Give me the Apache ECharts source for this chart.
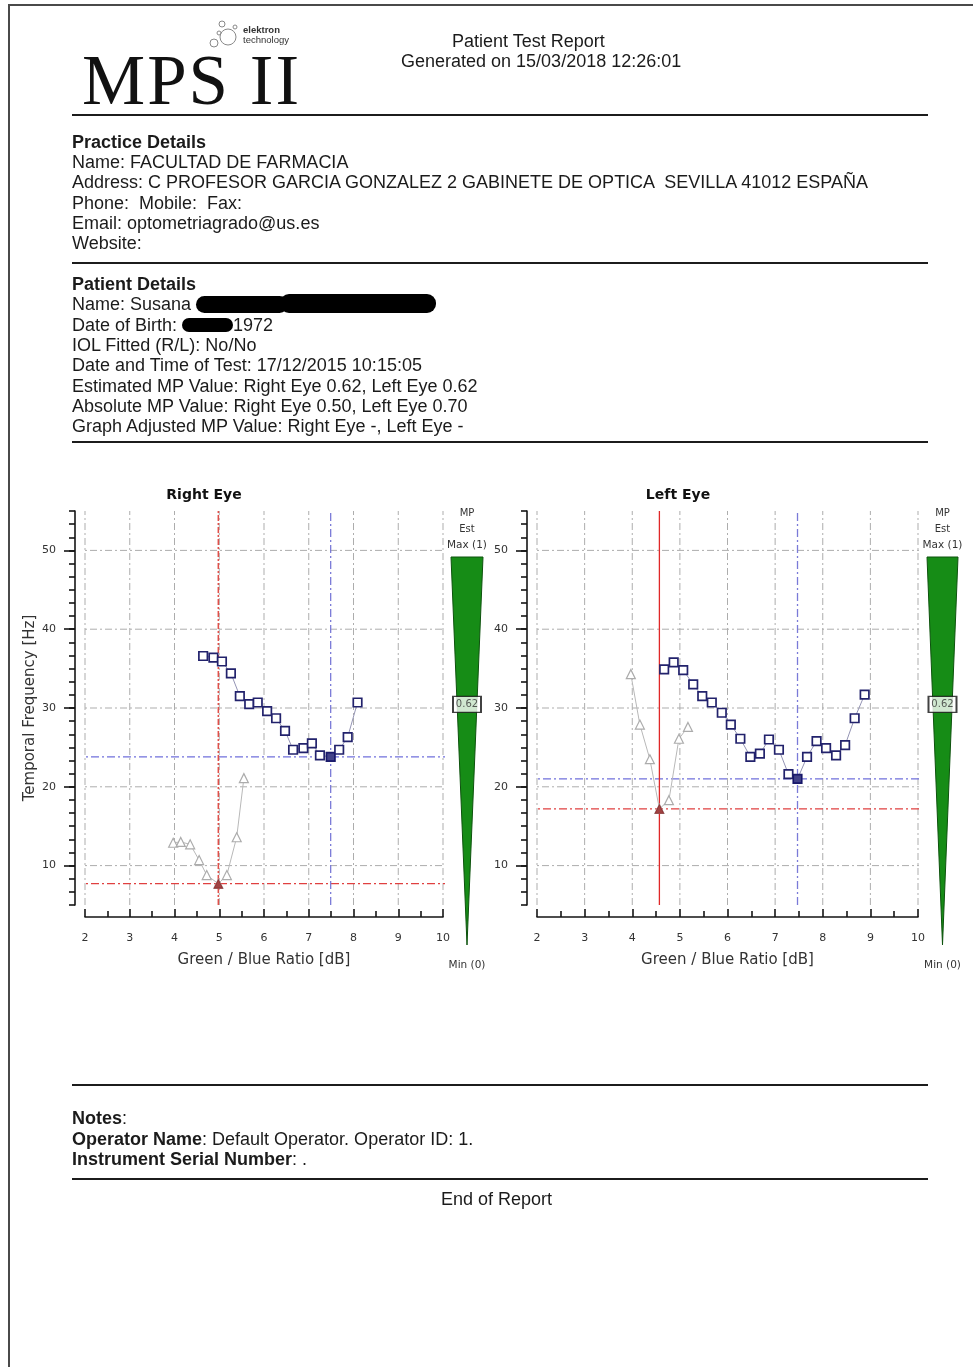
<!DOCTYPE html>
<html>
<head>
<meta charset="utf-8">
<title>MPS II - Patient Test Report</title>
<script src="https://cdn.jsdelivr.net/npm/echarts@6/dist/echarts.min.js"></script>
<style>
  html, body { margin: 0; padding: 0; background: #fff; }
  #page { position: relative; width: 973px; height: 1367px; overflow: hidden; background: #fff;
          font-family: 'Liberation Sans', Arial, sans-serif; color: #1b1b1b; }
  #chart { position: absolute; left: 0; top: 0; width: 973px; height: 1367px; }
  #report { position: absolute; left: 0; top: 0; width: 973px; height: 1367px; pointer-events: none; }
  .t { position: absolute; white-space: pre; font-size: 18px; line-height: 20px; }
  .hr { position: absolute; left: 72px; width: 856px; height: 2px; background: #1c1c1c; }
  .rd { display: inline-block; height: 17px; background: #000; border-radius: 9px; vertical-align: -3px; }
  .logo-s { position: absolute; font-family: 'Liberation Sans', Arial, sans-serif; font-size: 9.5px; line-height: 10px; color: #333; }
</style>
</head>
<body>
<div id="page">
  <div id="chart"></div>
  <div id="report"></div>
</div>
<script>
// ---- Axis ranges and tick values ----
const X_RANGE = [2, 10];
const Y_RANGE = [5, 55];
const xTicks = [2, 3, 4, 5, 6, 7, 8, 9, 10];
const yGridValues = [10, 20, 30, 40, 50];
const mpScale = [0, 1];          // MP estimate scale: Min (0) .. Max (1)

// ---- Right eye: flicker thresholds (ratio dB, frequency Hz) ----
const rightSquares = [[4.64, 36.6], [4.87, 36.4], [5.06, 35.9], [5.26, 34.4], [5.46, 31.5], [5.67, 30.5],
  [5.86, 30.7], [6.07, 29.6], [6.27, 28.7], [6.47, 27.1], [6.65, 24.7], [6.88, 24.9], [7.07, 25.5],
  [7.25, 24.0], [7.49, 23.8], [7.68, 24.7], [7.87, 26.3], [8.09, 30.7]];
const rightSquareMin = [7.49, 23.8];
const rightTriangles = [[3.97, 12.9], [4.14, 13.0], [4.35, 12.7], [4.55, 10.7], [4.72, 8.8],
  [4.98, 7.7], [5.17, 8.8], [5.39, 13.6], [5.55, 21.1]];
const rightTriangleMin = [4.98, 7.7];

// ---- Left eye ----
const leftSquares = [[4.67, 34.9], [4.87, 35.8], [5.07, 34.8], [5.28, 33.0], [5.47, 31.5], [5.67, 30.7],
  [5.88, 29.4], [6.07, 27.9], [6.27, 26.1], [6.48, 23.8], [6.68, 24.2], [6.87, 26.0], [7.08, 24.7],
  [7.28, 21.6], [7.47, 21.0], [7.67, 23.8], [7.87, 25.8], [8.07, 24.9], [8.28, 24.0], [8.47, 25.3],
  [8.67, 28.7], [8.88, 31.7]];
const leftSquareMin = [7.47, 21.0];
const leftTriangles = [[3.97, 34.3], [4.16, 27.9], [4.37, 23.5], [4.57, 17.2], [4.77, 18.3],
  [4.98, 26.1], [5.17, 27.6]];
const leftTriangleMin = [4.57, 17.2];

// ---- Estimated MP value per eye [right, left] ----
const mpEstimate = [0.62, 0.62];

// ---- Report text ----
const practiceLines = [
  '<b>Practice Details</b>',
  'Name: FACULTAD DE FARMACIA',
  'Address: C PROFESOR GARCIA GONZALEZ 2 GABINETE DE OPTICA  SEVILLA 41012 ESPAÑA',
  'Phone:  Mobile:  Fax:',
  'Email: optometriagrado@us.es',
  'Website:'
];
const patientLines = [
  '<b>Patient Details</b>',
  'Name: Susana <span class="rd" style="width:92px"></span><span class="rd" style="width:156px;margin-left:-8px;height:19px;vertical-align:-3px"></span>',
  'Date of Birth: <span class="rd" style="width:51px;height:14px;vertical-align:-1px"></span>1972',
  'IOL Fitted (R/L): No/No',
  'Date and Time of Test: 17/12/2015 10:15:05',
  'Estimated MP Value: Right Eye 0.62, Left Eye 0.62',
  'Absolute MP Value: Right Eye 0.50, Left Eye 0.70',
  'Graph Adjusted MP Value: Right Eye -, Left Eye -'
];
const notesLines = [
  '<b>Notes</b>:',
  '<b>Operator Name</b>: Default Operator. Operator ID: 1.',
  '<b>Instrument Serial Number</b>: .'
];

// ---------- report layout ----------
const report = document.getElementById('report');
function addText(html, left, centerY, extra) {
  const d = document.createElement('div');
  d.className = 't';
  d.style.left = left + 'px';
  d.style.top = (centerY - 10) + 'px';
  if (extra) Object.assign(d.style, extra);
  d.innerHTML = html;
  report.appendChild(d);
}
function addRule(y) {
  const d = document.createElement('div');
  d.className = 'hr';
  d.style.top = (y - 1) + 'px';
  report.appendChild(d);
}
function addBlock(lines, firstCenter, step) {
  lines.forEach((l, i) => addText(l, 72, firstCenter + i * step));
}

// page frame
(function () {
  const top = document.createElement('div');
  Object.assign(top.style, { position: 'absolute', left: '9px', right: '0', top: '4px', height: '2px', background: '#4a4a4a' });
  report.appendChild(top);
  const left = document.createElement('div');
  Object.assign(left.style, { position: 'absolute', left: '8px', width: '2px', top: '4px', bottom: '0', background: '#4a4a4a' });
  report.appendChild(left);
})();

// header: logo and title
(function () {
  const mps = document.createElement('div');
  Object.assign(mps.style, { position: 'absolute', left: '82px', top: '45px', fontFamily: "'Liberation Serif', 'Times New Roman', serif",
    fontSize: '71px', lineHeight: '71px', letterSpacing: '2px', color: '#111', whiteSpace: 'pre' });
  mps.textContent = 'MPS II';
  report.appendChild(mps);

  const svgNS = 'http://www.w3.org/2000/svg';
  const svg = document.createElementNS(svgNS, 'svg');
  svg.setAttribute('width', '40'); svg.setAttribute('height', '34');
  Object.assign(svg.style, { position: 'absolute', left: '205px', top: '17px' });
  [[23, 20, 8], [17, 7, 3], [9, 26, 4], [30, 10, 2], [14, 16, 2]].forEach(c => {
    const e = document.createElementNS(svgNS, 'circle');
    e.setAttribute('cx', c[0]); e.setAttribute('cy', c[1]); e.setAttribute('r', c[2]);
    e.setAttribute('fill', 'none'); e.setAttribute('stroke', '#888'); e.setAttribute('stroke-width', '1');
    svg.appendChild(e);
  });
  report.appendChild(svg);

  const el = document.createElement('div');
  el.className = 'logo-s'; el.style.left = '243px'; el.style.top = '25px'; el.style.fontWeight = 'bold';
  el.textContent = 'elektron';
  report.appendChild(el);
  const tech = document.createElement('div');
  tech.className = 'logo-s'; tech.style.left = '243px'; tech.style.top = '35px';
  tech.textContent = 'technology';
  report.appendChild(tech);

  addText('Patient Test Report', 452, 41);
  addText('Generated on 15/03/2018 12:26:01', 401, 61);
})();

addRule(115);
addBlock(practiceLines, 142, 20.2);
addRule(263);
addBlock(patientLines, 284, 20.3);
addRule(442);
addRule(1085);
addBlock(notesLines, 1118, 20.5);
addRule(1179);
addText('End of Report', 441, 1199);

// ---------- charts ----------
const CHART_FONT = "'DejaVu Sans', Verdana, sans-serif";
const AXIS_COLOR = '#151515';
const gridLineStyle = { color: '#adadad', width: 1, type: [7, 3, 2, 3] };

const panels = [
  {
    title: 'Right Eye', titleX: 204,
    grid: { left: 85, top: 511, width: 358, height: 394 },
    bar: { left: 451, top: 557, width: 32, height: 388 },
    squares: rightSquares, squareMin: rightSquareMin,
    triangles: rightTriangles, triangleMin: rightTriangleMin,
    mp: mpEstimate[0], yName: 'Temporal Frequency [Hz]',
    redVertical: { color: '#e0504a', width: 1.6, type: [6, 2, 2, 2] }
  },
  {
    title: 'Left Eye', titleX: 678,
    grid: { left: 537, top: 511, width: 381, height: 394 },
    bar: { left: 927, top: 557, width: 31, height: 388 },
    squares: leftSquares, squareMin: leftSquareMin,
    triangles: leftTriangles, triangleMin: leftTriangleMin,
    mp: mpEstimate[1], yName: '',
    redVertical: { color: '#e02828', width: 1.3, type: 'solid' }
  }
];

const option = { animation: false, grid: [], xAxis: [], yAxis: [], series: [], graphic: [] };

function segment(xi, yi, pts, lineStyle, z) {
  return { type: 'line', xAxisIndex: xi, yAxisIndex: yi, data: pts, symbol: 'none', clip: false,
           silent: true, z: z, lineStyle: lineStyle };
}
function txt(text, x, y, font, color) {
  return { type: 'text', x: x, y: y, silent: true, z: 10,
           style: { text: text, font: font, fill: color || '#222', align: 'center', verticalAlign: 'middle' } };
}

panels.forEach(p => {
  const gMain = option.grid.length;
  option.grid.push(Object.assign({ containLabel: false }, p.grid));
  const gBar = option.grid.length;
  option.grid.push(Object.assign({ containLabel: false }, p.bar));

  const xMain = option.xAxis.length;
  option.xAxis.push({
    gridIndex: gMain, type: 'value', min: X_RANGE[0], max: X_RANGE[1], interval: 1,
    position: 'bottom', offset: 12,
    axisLine: { show: true, lineStyle: { color: AXIS_COLOR, width: 1.6 } },
    axisTick: { show: true, inside: true, length: 8, lineStyle: { color: AXIS_COLOR, width: 1.6 } },
    minorTick: { show: true, splitNumber: 2, length: 6, lineStyle: { color: AXIS_COLOR, width: 1.6 } },
    axisLabel: { margin: 16, fontSize: 11, color: '#333', fontFamily: CHART_FONT },
    splitLine: { show: false }, minorSplitLine: { show: false },
    name: 'Green / Blue Ratio [dB]', nameLocation: 'middle', nameGap: 36,
    nameTextStyle: { fontSize: 15, color: '#333', fontFamily: CHART_FONT }
  });
  const xBar = option.xAxis.length;
  option.xAxis.push({ gridIndex: gBar, type: 'value', min: 0, max: 1, show: false });

  // minor y ticks every 10/6 Hz across the range
  const minorY = [];
  for (let k = 0; k <= 30; k++) minorY.push(+(Y_RANGE[0] + k * 10 / 6).toFixed(4));

  const yMain = option.yAxis.length;
  option.yAxis.push({
    gridIndex: gMain, type: 'value', min: Y_RANGE[0], max: Y_RANGE[1], position: 'left', offset: 10,
    axisLine: { show: true, lineStyle: { color: AXIS_COLOR, width: 1.6 } },
    axisTick: { show: true, length: 11, customValues: yGridValues, lineStyle: { color: AXIS_COLOR, width: 1.6 } },
    axisLabel: { show: true, customValues: yGridValues, margin: 19, fontSize: 11, color: '#333', fontFamily: CHART_FONT },
    splitLine: { show: false },
    name: p.yName, nameLocation: 'middle', nameGap: 37,
    nameTextStyle: { fontSize: 15, color: '#333', fontFamily: CHART_FONT }
  });
  const yMinor = option.yAxis.length;
  option.yAxis.push({
    gridIndex: gMain, type: 'value', min: Y_RANGE[0], max: Y_RANGE[1], position: 'left', offset: 10,
    axisLine: { show: false },
    axisTick: { show: true, length: 6, customValues: minorY, lineStyle: { color: AXIS_COLOR, width: 1.6 } },
    axisLabel: { show: false }, splitLine: { show: false }
  });
  const yBar = option.yAxis.length;
  option.yAxis.push({ gridIndex: gBar, type: 'value', min: mpScale[0], max: mpScale[1], show: false });

  // horizontal lines run from the y axis line to the MP bar
  const unit = p.grid.width / (X_RANGE[1] - X_RANGE[0]);
  const x0 = X_RANGE[0] - 10 / unit, x1 = X_RANGE[1] + 8 / unit;

  yGridValues.forEach(v => option.series.push(segment(xMain, yMain, [[x0, v], [x1, v]], gridLineStyle, 1)));
  xTicks.forEach(v => option.series.push(segment(xMain, yMain, [[v, Y_RANGE[0]], [v, Y_RANGE[1]]], gridLineStyle, 1)));

  // minimum markers: threshold crosshairs
  const redH = { color: '#e04040', width: 1.3, type: [8, 3, 2, 3] };
  const blueH = { color: '#7070dc', width: 1.3, type: [8, 3, 2, 3] };
  option.series.push(segment(xMain, yMain, [[x0, p.triangleMin[1]], [x1, p.triangleMin[1]]], redH, 2));
  option.series.push(segment(xMain, yMain, [[x0, p.squareMin[1]], [x1, p.squareMin[1]]], blueH, 2));
  option.series.push(segment(xMain, yMain, [[p.triangleMin[0], Y_RANGE[0]], [p.triangleMin[0], Y_RANGE[1]]], p.redVertical, 2));
  option.series.push(segment(xMain, yMain, [[p.squareMin[0], Y_RANGE[0]], [p.squareMin[0], Y_RANGE[1]]],
    { color: '#7a7ad8', width: 1.3, type: [8, 3, 2, 3] }, 2));

  // triangles (grey, hollow)
  option.series.push({
    type: 'line', xAxisIndex: xMain, yAxisIndex: yMain, data: p.triangles, z: 3,
    symbol: 'triangle', symbolSize: 9, showSymbol: true, showAllSymbol: true,
    itemStyle: { color: '#ffffff', borderColor: '#acacac', borderWidth: 1.2 },
    lineStyle: { color: '#b8b8b8', width: 1 }
  });
  option.series.push({
    type: 'scatter', xAxisIndex: xMain, yAxisIndex: yMain, data: [p.triangleMin], z: 5,
    symbol: 'triangle', symbolSize: 10, itemStyle: { color: '#8a1414' }
  });

  // squares (navy, hollow)
  option.series.push({
    type: 'line', xAxisIndex: xMain, yAxisIndex: yMain, data: p.squares, z: 4,
    symbol: 'rect', symbolSize: 8.5, showSymbol: true, showAllSymbol: true,
    itemStyle: { color: '#ffffff', borderColor: '#22226c', borderWidth: 1.7 },
    lineStyle: { color: '#9494b4', width: 1 }
  });
  option.series.push({
    type: 'scatter', xAxisIndex: xMain, yAxisIndex: yMain, data: [p.squareMin], z: 6,
    symbol: 'rect', symbolSize: 9, itemStyle: { color: '#13136a' }
  });

  // MP scale wedge: full width at Max (1), point at Min (0)
  option.series.push({
    type: 'custom', xAxisIndex: xBar, yAxisIndex: yBar, data: [[0.5, mpScale[1]]], z: 3, silent: true,
    renderItem: (params, api) => {
      const tl = api.coord([0, mpScale[1]]);
      const tr = api.coord([1, mpScale[1]]);
      const tip = api.coord([0.5, mpScale[0]]);
      return { type: 'polygon', shape: { points: [tl, tr, tip] },
               style: { fill: '#168c16', stroke: '#0d520d', lineWidth: 1 } };
    }
  });
  // estimated MP value box
  option.series.push({
    type: 'scatter', xAxisIndex: xBar, yAxisIndex: yBar, data: [[0.5, p.mp]], z: 8, silent: true,
    symbol: 'rect', symbolSize: [28, 16],
    itemStyle: { color: '#ffffff', borderColor: '#111', borderWidth: 1.5 },
    label: { show: true, position: 'inside', formatter: d => d.value[1].toFixed(2),
             fontSize: 10, color: '#333', fontFamily: CHART_FONT }
  });

  const bx = p.bar.left + p.bar.width / 2;
  option.graphic.push(txt(p.title, p.titleX, 495, 'bold 14px ' + CHART_FONT, '#111'));
  option.graphic.push(txt('MP', bx, 513, '10px ' + CHART_FONT, '#333'));
  option.graphic.push(txt('Est', bx, 529, '10px ' + CHART_FONT, '#333'));
  option.graphic.push(txt('Max (1)', bx, 545, '10.5px ' + CHART_FONT, '#333'));
  option.graphic.push(txt('Min (0)', bx, 965, '10.5px ' + CHART_FONT, '#333'));
});

const chart = echarts.init(document.getElementById('chart'), null, { renderer: 'canvas' });
chart.setOption(option);
</script>
</body>
</html>
